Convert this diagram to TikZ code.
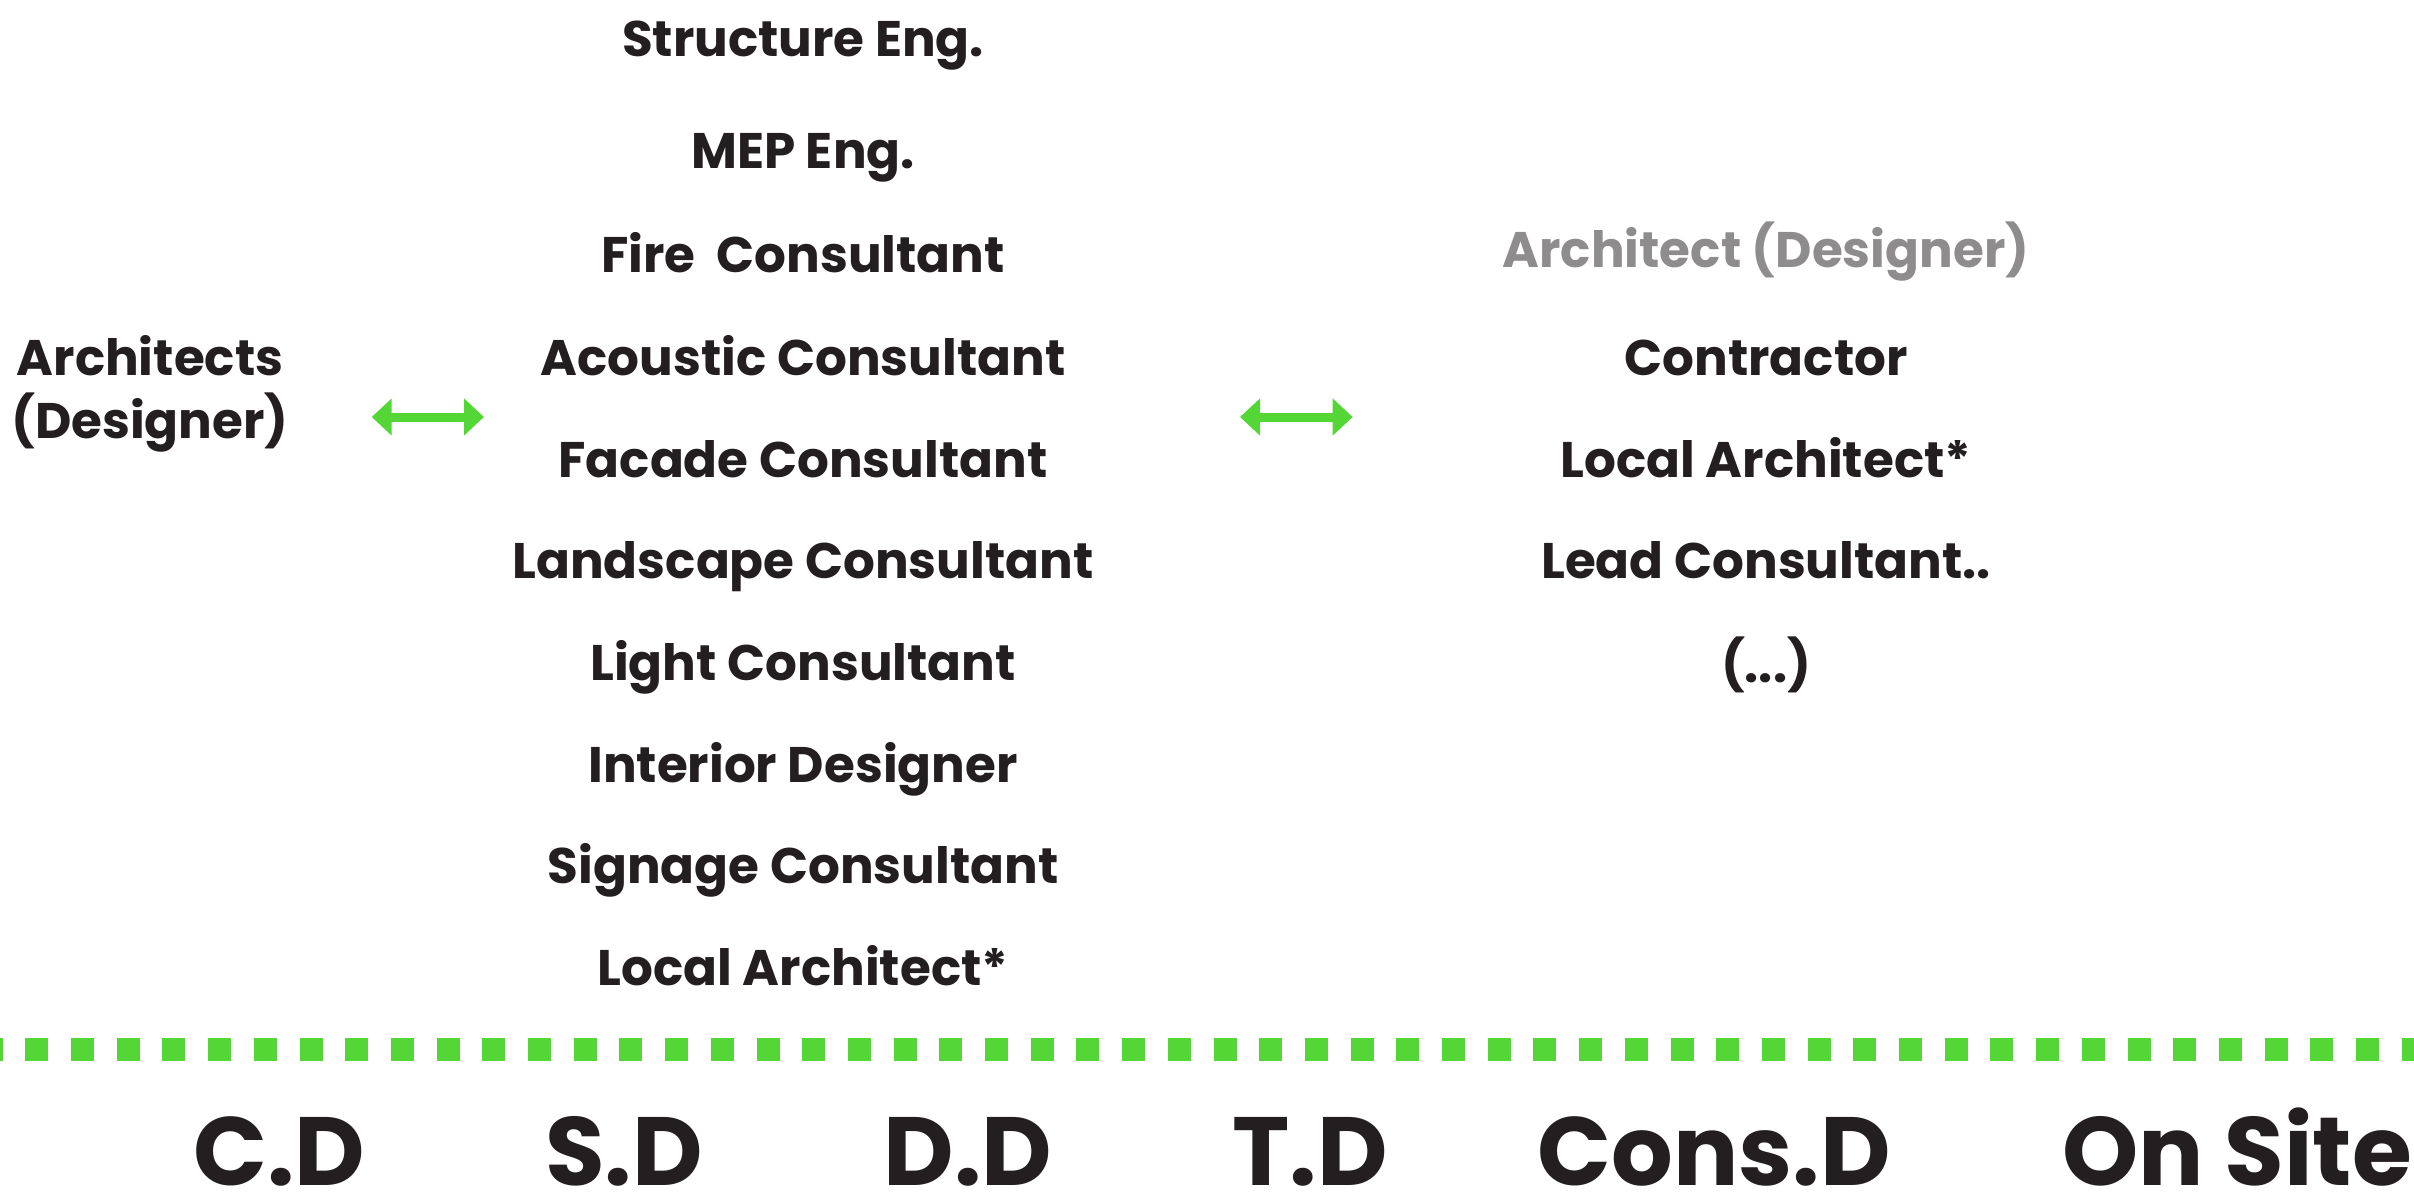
\documentclass[tikz,border=0pt]{standalone}
\usepackage{fontspec}
\setmainfont{Poppins}
\usetikzlibrary{arrows.meta}
\definecolor{ink}{HTML}{231F20}
\definecolor{muted}{HTML}{8E8C8D}
\definecolor{leaf}{RGB}{85,214,55}
\tikzset{
  role/.style={anchor=base, text=ink, inner sep=0pt,
    font=\fontsize{50}{58}\selectfont\bfseries},
  faded/.style={role, text=muted},
  phase/.style={anchor=base, text=ink, inner sep=0pt, text depth=0pt,
    font=\fontsize{97}{110}\selectfont\bfseries},
  link/.style={leaf, line width=9pt,
    {Triangle[length=20pt,width=36pt]}-{Triangle[length=20pt,width=36pt]}},
  timeline/.style={leaf, line width=23pt,
    dash pattern=on 23pt off 22.7pt, dash phase=20.4pt}
}
\begin{document}
\begin{tikzpicture}[x=1pt,y=-1pt]
\useasboundingbox (0,0) rectangle (2414,1202);

% lead designer
\node[role] (arch)  at (150,375) {Architects};
\node[role] (desig) at (150,438) {(Designer)};

% design-stage consultants
\node[role] (c1)  at (803,56)  {Structure Eng.};
\node[role] (c2)  at (803,168) {MEP Eng.};
\node[role] (c3)  at (803,272) {Fire\ \ Consultant};
\node[role] (c4)  at (803,375) {Acoustic Consultant};
\node[role] (c5)  at (803,477) {Facade Consultant};
\node[role] (c6)  at (803,578) {Landscape Consultant};
\node[role] (c7)  at (803,680) {Light Consultant};
\node[role] (c8)  at (803,782) {Interior Designer};
\node[role] (c9)  at (803,883) {Signage Consultant};
\node[role] (c10) at (803,985) {Local Architect*};

% construction-stage parties
\node[faded] (r1) at (1766,267) {Architect (Designer)};
\node[role]  (r2) at (1766,375) {Contractor};
\node[role]  (r3) at (1766,477) {Local Architect*};
\node[role]  (r4) at (1766,578) {Lead Consultant..};
\node[role]  (r5) at (1766,682) {(...)};

% two-way links
\coordinate (l1a) at (371.7,417);
\coordinate (l1b) at (484,417);
\coordinate (l2a) at (1240,417);
\coordinate (l2b) at (1352.7,417);
\draw[link] (l1a) -- (l1b);
\draw[link] (l2a) -- (l2b);

% stage timeline
\coordinate (t0) at (0,1049.5);
\coordinate (t1) at (2414,1049.5);
\draw[timeline] (t0) -- (t1);

% stage labels
\node[phase] (p1) at (279,1185)  {C.D};
\node[phase] (p2) at (624,1185)  {S.D};
\node[phase] (p3) at (968,1185)  {D.D};
\node[phase] (p4) at (1310,1185) {T.D};
\node[phase] (p5) at (1714,1185) {Cons.D};
\node[phase] (p6) at (2237,1185) {On Site};
\end{tikzpicture}
\end{document}
